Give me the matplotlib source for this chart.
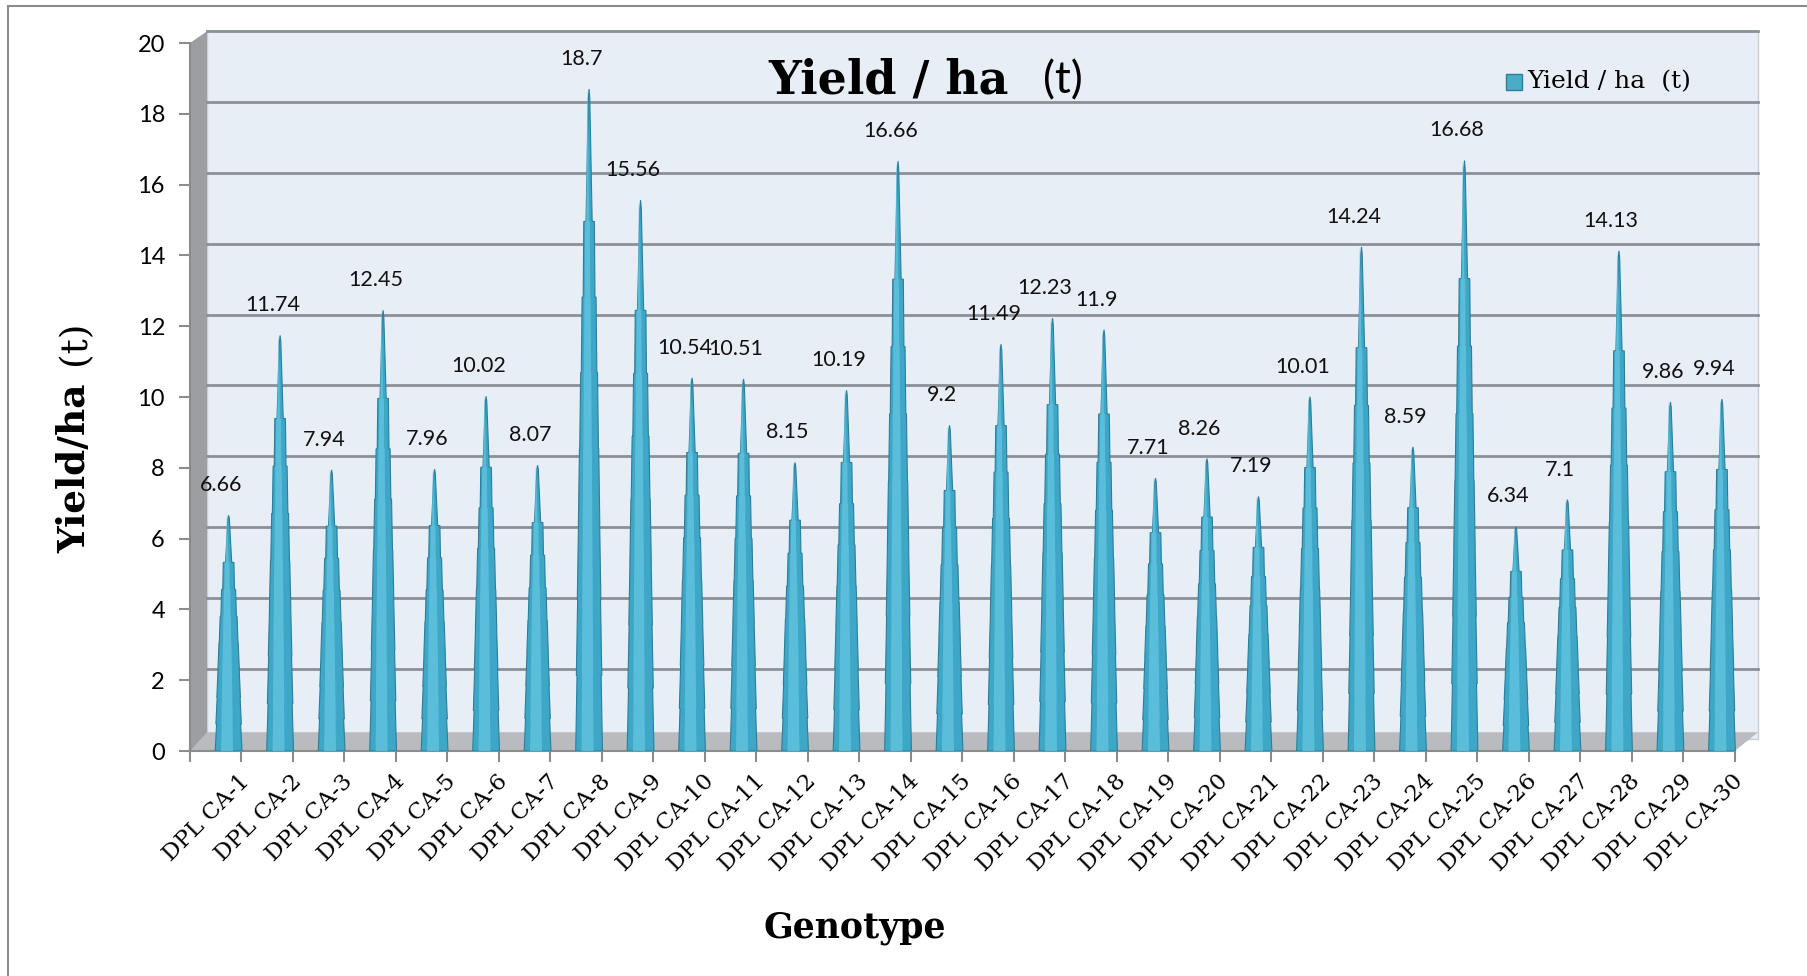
import numpy as np
import matplotlib
matplotlib.use("Agg")
from matplotlib import pyplot as plt
from matplotlib.patches import Polygon, Rectangle

genotypes = ["DPL CA-%d" % i for i in range(1, 31)]
yields = [6.66, 11.74, 7.94, 12.45, 7.96, 10.02, 8.07, 18.7, 15.56, 10.54,
          10.51, 8.15, 10.19, 16.66, 9.2, 11.49, 12.23, 11.9, 7.71, 8.26,
          7.19, 10.01, 14.24, 8.59, 16.68, 6.34, 7.1, 14.13, 9.86, 9.94]
y_ticks = list(range(0, 21, 2))

cone_col = "#3ea6c6"
cone_edge = "#2a7f9b"
cone_light = "#62c3de"
wall_col = "#e8eef6"
grid_col = "#8b9097"

fig = plt.figure(figsize=(18.08, 9.76), dpi=100)
ax = fig.add_axes([190 / 1808, 1 - 751 / 976, (1758 - 190) / 1808, (751 - 43) / 976])
ax.set_xlim(-0.5, 29.95)
ax.set_ylim(0, 20)
ax.patch.set_visible(False)

# fake 3d: back wall, left wall, floor
depth_x, depth_y = 0.33, 0.33
ax.add_patch(Rectangle((-0.5 + depth_x, depth_y), 30 + 0.12, 20.0, facecolor=wall_col,
                       edgecolor="#c9ced4", lw=1, clip_on=False, zorder=0))
ax.add_patch(Polygon([(-0.5, 0), (-0.5 + depth_x, depth_y), (-0.5 + depth_x, 20 + depth_y),
                      (-0.5, 20)], closed=True, facecolor="#9c9ea1", edgecolor="none",
                     clip_on=False, zorder=1))
ax.add_patch(Polygon([(-0.5, 0), (29.5, 0), (29.5 + depth_x + 0.12, depth_y + 0.2),
                      (-0.5 + depth_x, depth_y + 0.2)], closed=True, facecolor="#b9bbbe",
                     edgecolor="none", clip_on=False, zorder=1))
for t in y_ticks[1:]:
    ax.plot([-0.5 + depth_x, 29.95], [t + depth_y, t + depth_y], color=grid_col, lw=2,
            clip_on=False, zorder=1)


def cone(cx, v, w0=0.26):
    fr = [1.0, 0.95, 0.88, 0.8, 0.7, 0.58, 0.44]
    n = len(fr)
    top = 0.8 * v
    left, right = [], []
    for k in range(n):
        y0 = top * k / n
        y1 = top * (k + 1) / n
        a0 = w0 * fr[k]
        a1 = a0 * 0.9
        left += [(cx - a0, y0), (cx - a1, y1)]
        right += [(cx + a0, y0), (cx + a1, y1)]
    left += [(cx - 0.06, top), (cx - 0.014, v * 0.985), (cx, v)]
    right += [(cx + 0.06, top), (cx + 0.014, v * 0.985), (cx, v)]
    return left + right[::-1]


for i, v in enumerate(yields):
    cx = i + 0.25
    pts = np.array(cone(cx, v))
    ax.add_patch(Polygon(pts, closed=True, facecolor=cone_col, edgecolor=cone_edge,
                         lw=0.8, zorder=3))
    hl = pts.copy()
    hl[:, 0] = cx - 0.03 + (hl[:, 0] - cx) * 0.45
    ax.add_patch(Polygon(hl, closed=True, facecolor=cone_light, edgecolor="none",
                         alpha=0.8, zorder=4))
    ax.text(i + 0.1, v + 0.85, f"{v:g}", ha="center", va="center", fontsize=15.5,
            family="Lato", color="#111111", zorder=5)

ax.plot([-0.5, 29.5], [0, 0], color="#8c8c8c", lw=1.5, clip_on=False, zorder=2)
for s in ["top", "right", "bottom"]:
    ax.spines[s].set_visible(False)
ax.spines["left"].set_color("#8c8c8c")
ax.spines["left"].set_linewidth(1.5)

ax.set_yticks(y_ticks)
ax.set_yticklabels([str(t) for t in y_ticks], fontsize=17, family="Lato")
ax.tick_params(axis="y", length=8, width=1.5, color="#8c8c8c", pad=10)

ax.set_xticks(np.arange(-0.5, 30, 1))
ax.set_xticklabels([])
ax.tick_params(axis="x", which="major", length=8, width=1.5, color="#8c8c8c")
ax.set_xticks(np.arange(30) + 0.45, minor=True)
ax.set_xticklabels(genotypes, minor=True, rotation=45, ha="right", va="top",
                   rotation_mode="anchor", fontsize=16.5, family="DejaVu Serif")
ax.tick_params(axis="x", which="minor", length=0, pad=14)

# titles
fig.text(1009 / 1808, 1 - 81 / 976, "Yield / ha", ha="right", va="center",
         fontsize=33, fontweight="bold", family="DejaVu Serif")
fig.text(1043 / 1808, 1 - 81 / 976, "(t)", ha="left", va="center",
         fontsize=32, family="Lato")
fig.text(75 / 1808, 1 - 468 / 976, "Yield/ha", rotation=90, ha="center", va="center",
         fontsize=27, fontweight="bold", family="DejaVu Serif")
fig.text(75 / 1808, 1 - 343 / 976, "(t)", rotation=90, ha="center", va="center",
         fontsize=27, family="DejaVu Serif")
fig.text(855 / 1808, 1 - 928 / 976, "Genotype", ha="center", va="center",
         fontsize=25, fontweight="bold", family="DejaVu Serif")

# legend
fig.patches.append(Rectangle((1506 / 1808, 1 - 90 / 976), 16 / 1808, 16 / 976,
                             transform=fig.transFigure, facecolor="#4bacc6",
                             edgecolor="#2a7f9b", lw=1))
fig.text(1527 / 1808, 1 - 82 / 976, "Yield / ha  (t)", ha="left", va="center",
         fontsize=18, family="DejaVu Serif")

# outer frame (left and top edges)
fig.add_artist(plt.Line2D([8 / 1808, 8 / 1808], [0, 1 - 6 / 976], transform=fig.transFigure,
                          color="#8c8c8c", lw=1.5))
fig.add_artist(plt.Line2D([8 / 1808, 1], [1 - 6 / 976, 1 - 6 / 976], transform=fig.transFigure,
                          color="#8c8c8c", lw=1.5))

fig.savefig("out.png", dpi=100, facecolor="white")
